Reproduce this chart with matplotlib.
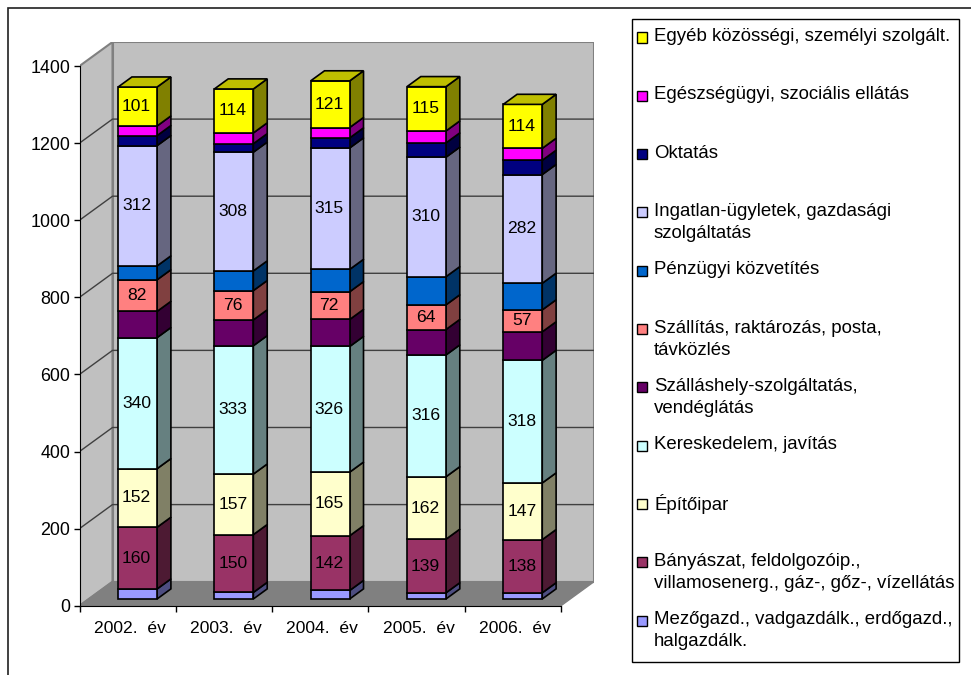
#!/usr/bin/env python
# -*- coding: utf-8 -*-
import numpy as np
import matplotlib
matplotlib.use('Agg')
import matplotlib.pyplot as plt
from matplotlib.patches import Polygon, Rectangle

plt.rcParams['font.family'] = ['Liberation Sans', 'DejaVu Sans']

years = ['2002.  év', '2003.  év', '2004.  év', '2005.  év', '2006.  év']

# alulrol felfele
mezogazd = [26, 17, 22, 16, 16]
banyaszat = [160, 150, 142, 139, 138]
epitoipar = [152, 157, 165, 162, 147]
kereskedelem = [340, 333, 326, 316, 318]
szallashely = [68, 67, 70, 66, 74]
szallitas = [82, 76, 72, 64, 57]
penzugyi = [36, 51, 58, 73, 69]
ingatlan = [312, 308, 315, 310, 282]
oktatas = [26, 22, 26, 37, 37]
egeszseg = [25, 28, 27, 31, 31]
egyeb = [101, 114, 121, 115, 114]

series = [mezogazd, banyaszat, epitoipar, kereskedelem, szallashely, szallitas,
          penzugyi, ingatlan, oktatas, egeszseg, egyeb]
colors = ['#9999FF', '#993366', '#FFFFCC', '#CCFFFF', '#660066', '#FF8080',
          '#0066CC', '#CCCCFF', '#000080', '#FF00FF', '#FFFF00']
# csak ezeknek van felirata
labeled = [False, True, True, True, False, True, False, True, False, False, True]
names = ['Mezőgazd., vadgazdálk., erdőgazd.,\nhalgazdálk.',
         'Bányászat, feldolgozóip.,\nvillamosenerg., gáz-, gőz-, vízellátás',
         'Építőipar',
         'Kereskedelem, javítás',
         'Szálláshely-szolgáltatás,\nvendéglátás',
         'Szállítás, raktározás, posta,\ntávközlés',
         'Pénzügyi közvetítés',
         'Ingatlan-ügyletek, gazdasági\nszolgáltatás',
         'Oktatás',
         'Egészségügyi, szociális ellátás',
         'Egyéb közösségi, személyi szolgált.']

W, H = 971, 675
FS = 12.6
FS_LEG = 13.4
fig = plt.figure(figsize=(W / 100, H / 100), dpi=100)

def px(x, y):
    return x / W, 1 - y / H

# keret: jobb es also szele kilog a kepbol
fig.add_artist(Rectangle(px(8, 690), 1000 / W, 682 / H, transform=fig.transFigure,
                         fill=False, ec='#202020', lw=1.2))

# 3D eltolas adategysegben
DX = 33 / 96.3
DY = 62.3
BAR_W = 0.405
D0 = 0.30
D1 = 0.42

ax = fig.add_axes([79.5 / W, 1 - 605.7 / H, (594 - 79.5) / W, (605.7 - 42) / H])
ax.set_xlim(0, 5 + DX)
ax.set_ylim(0, 1400 + DY)
ax.patch.set_visible(False)

# fal es padlo
ax.add_patch(Polygon([(DX, DY), (5 + DX, DY), (5 + DX, 1400 + DY), (DX, 1400 + DY)],
                     fc='#C0C0C0', ec='#808080', lw=1.5, zorder=1))
ax.add_patch(Polygon([(0, 0), (DX, DY), (DX, 1400 + DY), (0, 1400)],
                     fc='#C0C0C0', ec='#808080', lw=1.5, zorder=1))
ax.add_patch(Polygon([(0, 0), (5, 0), (5 + DX, DY), (DX, DY)],
                     fc='#808080', ec='#808080', lw=1.0, zorder=1))

yticks = np.arange(0, 1401, 200)
for t in yticks[1:-1]:
    ax.plot([0, DX, 5 + DX], [t, t + DY, t + DY], color='#404040', lw=1.0, zorder=2)

xpos = np.arange(5) + 0.5 + DX * D0
bottom = np.full(5, DY * 0.28)
z = 3
for vals, col, lab in zip(series, colors, labeled):
    vals = np.array(vals, dtype=float)
    rgb = np.array(matplotlib.colors.to_rgb(col))
    ax.bar(xpos, vals, width=BAR_W, bottom=bottom, color=col, edgecolor='black',
           linewidth=1.2, zorder=z + 1)
    for x, b, v in zip(xpos, bottom, vals):
        r = x + BAR_W / 2
        ax.add_patch(Polygon([(r, b), (r + DX * D1, b + DY * D1),
                              (r + DX * D1, b + v + DY * D1), (r, b + v)],
                             fc=rgb * 0.5, ec='black', lw=1.2, zorder=z))
        if lab:
            ax.text(x - 0.01, b + v / 2, '%d' % v, ha='center', va='center',
                    fontsize=FS, color='black', zorder=50)
    bottom = bottom + vals
    z += 2

# legfelso lap
for x, b in zip(xpos, bottom):
    l, r = x - BAR_W / 2, x + BAR_W / 2
    ax.add_patch(Polygon([(l, b), (r, b), (r + DX * D1, b + DY * D1), (l + DX * D1, b + DY * D1)],
                         fc=np.array(matplotlib.colors.to_rgb(colors[-1])) * 0.75,
                         ec='black', lw=1.2, zorder=z))

for s in ['top', 'right']:
    ax.spines[s].set_visible(False)
ax.spines['left'].set_bounds(0, 1400)
ax.spines['bottom'].set_bounds(0, 5)
ax.spines['left'].set_zorder(60)
ax.spines['bottom'].set_zorder(60)
ax.set_yticks(yticks)
ax.set_xticks(np.arange(6))
ax.set_xticklabels([])
ax.set_xticks(np.arange(5) + 0.52, minor=True)
ax.set_xticklabels(years, minor=True)
ax.tick_params(axis='x', which='minor', length=0, pad=11, labelsize=FS)
ax.tick_params(axis='x', which='major', length=4.5, width=1.0)
ax.tick_params(axis='y', length=4.5, width=1.0, pad=2, labelsize=12.9)

# jelmagyarazat
fig.add_artist(Rectangle(px(631.5, 661.5), 327.5 / W, 642.5 / H, transform=fig.transFigure,
                         fc='white', ec='black', lw=1.0))
y0 = 37.5
step = 58.3
for i, (name, col) in enumerate(zip(names[::-1], colors[::-1])):
    y = y0 + i * step
    fig.add_artist(Rectangle(px(637, y + 5), 10 / W, 10 / H, transform=fig.transFigure,
                             fc=col, ec='black', lw=1.0))
    tx, ty = px(654, y - 9.5)
    fig.text(tx, ty, name, ha='left', va='top', fontsize=FS_LEG, linespacing=1.4)

fig.savefig('out.png', dpi=100)
